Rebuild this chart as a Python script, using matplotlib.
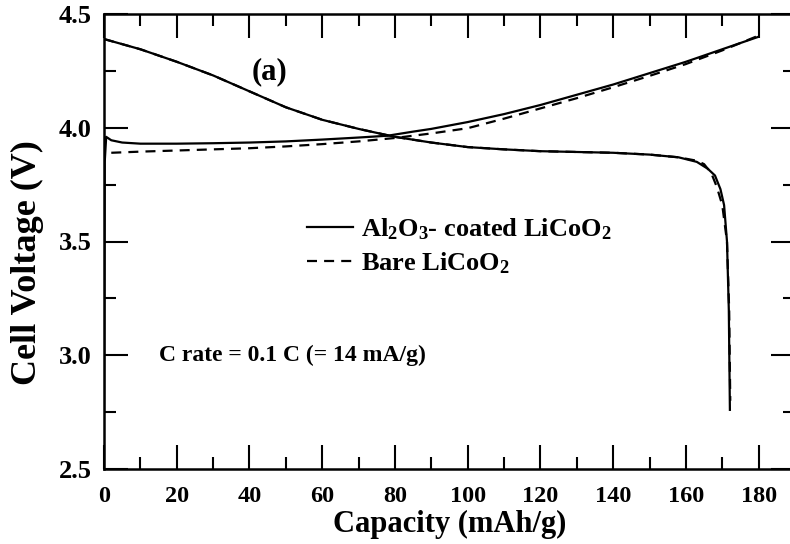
import matplotlib
matplotlib.use("Agg")
import matplotlib.pyplot as plt
from matplotlib.ticker import MultipleLocator, FormatStrFormatter

plt.rcParams['font.family'] = ['Liberation Serif', 'DejaVu Serif']
plt.rcParams['font.weight'] = 'bold'
plt.rcParams['mathtext.fontset'] = 'custom'
plt.rcParams['mathtext.rm'] = 'Liberation Serif:bold'
plt.rcParams['mathtext.default'] = 'rm'

# charge curves (capacity mAh/g, voltage V)
chg_coated_x = [0, 0.2, 0.6, 2, 5, 10, 20, 30, 40, 50, 60, 70, 78, 85, 90, 100,
                110, 120, 130, 140, 150, 160, 170, 180]
chg_coated_y = [2.75, 3.85, 3.96, 3.945, 3.935, 3.93, 3.93, 3.932, 3.935, 3.94,
                3.948, 3.957, 3.965, 3.983, 3.995, 4.025, 4.06, 4.10, 4.145,
                4.19, 4.24, 4.29, 4.345, 4.40]
chg_bare_x = [2, 10, 20, 30, 40, 50, 60, 70, 80, 90, 100, 110, 120, 130, 140,
              150, 160, 170, 180]
chg_bare_y = [3.89, 3.895, 3.90, 3.905, 3.91, 3.918, 3.928, 3.94, 3.955, 3.975,
              3.998, 4.04, 4.085, 4.13, 4.178, 4.228, 4.28, 4.34, 4.405]

# discharge curves
dis_coated_x = [0, 10, 20, 30, 40, 50, 60, 70, 80, 90, 100, 110, 120, 140, 150,
                158, 163, 166, 168, 169.5, 170.5, 171.3, 171.8, 172.1]
dis_coated_y = [4.39, 4.345, 4.29, 4.23, 4.16, 4.09, 4.035, 3.995, 3.96, 3.935,
                3.915, 3.905, 3.897, 3.89, 3.882, 3.87, 3.85, 3.82, 3.79, 3.73,
                3.66, 3.5, 3.2, 2.76]
dis_bare_x = [0, 10, 20, 30, 40, 50, 60, 70, 80, 90, 100, 110, 120, 140, 150,
              158, 163, 165, 167, 168.5, 170, 171.3, 171.9, 172.2]
dis_bare_y = [4.39, 4.345, 4.29, 4.23, 4.16, 4.09, 4.035, 3.995, 3.96, 3.935,
              3.915, 3.905, 3.897, 3.89, 3.882, 3.87, 3.855, 3.84, 3.80, 3.74,
              3.66, 3.5, 3.2, 2.8]

labels = ['Al$_2$O$_3$- coated LiCoO$_2$', 'Bare LiCoO$_2$']

fig = plt.figure(figsize=(7.9, 5.44), dpi=100)
ax = fig.add_axes([104/790, 75/544, 691/790, 455/544])

lw = 1.6
dash = (4.5, 3.2)
l1, = ax.plot(chg_coated_x, chg_coated_y, 'k-', lw=lw)
ax.plot(dis_coated_x, dis_coated_y, 'k-', lw=lw)
l2, = ax.plot(chg_bare_x, chg_bare_y, 'k--', lw=lw, dashes=dash)
ax.plot(dis_bare_x, dis_bare_y, 'k--', lw=lw, dashes=dash)

ax.set_xlim(0, 190)
ax.set_ylim(2.5, 4.5)
ax.xaxis.set_minor_locator(MultipleLocator(10))
ax.yaxis.set_major_locator(MultipleLocator(0.5))
ax.yaxis.set_minor_locator(MultipleLocator(0.25))
ax.set_xticks(range(0, 181, 20))
ax.yaxis.set_major_formatter(FormatStrFormatter('%.1f'))

ax.tick_params(which='both', direction='in', top=True, right=True, width=1.5)
ax.tick_params(which='major', length=17)
ax.tick_params(which='minor', length=8.5)
ax.tick_params(axis='x', labelsize=17.5, pad=12)
ax.tick_params(axis='y', labelsize=19, pad=9)
for s in ax.spines.values():
    s.set_linewidth(1.8)

ax.set_xlabel('Capacity (mAh/g)', fontsize=22, fontweight='bold', labelpad=2)
ax.set_ylabel('Cell Voltage (V)', fontsize=26, fontweight='bold')
ax.yaxis.set_label_coords(-0.087, 0.453)

ax.text(45.5, 4.245, '(a)', fontsize=22, fontweight='bold', ha='center', va='center')
ax.text(15, 3.0, 'C rate = 0.1 C (= 14 mA/g)', fontsize=17, fontweight='bold',
        ha='left', va='center')

ax.legend([l1, l2], labels, loc='upper left', bbox_to_anchor=(0.294, 0.555),
          frameon=False, handlelength=1.75, handletextpad=0.3,
          labelspacing=0.3, borderpad=0, borderaxespad=0,
          prop={'weight': 'bold', 'size': 19})

fig.savefig('out.png', dpi=100)
